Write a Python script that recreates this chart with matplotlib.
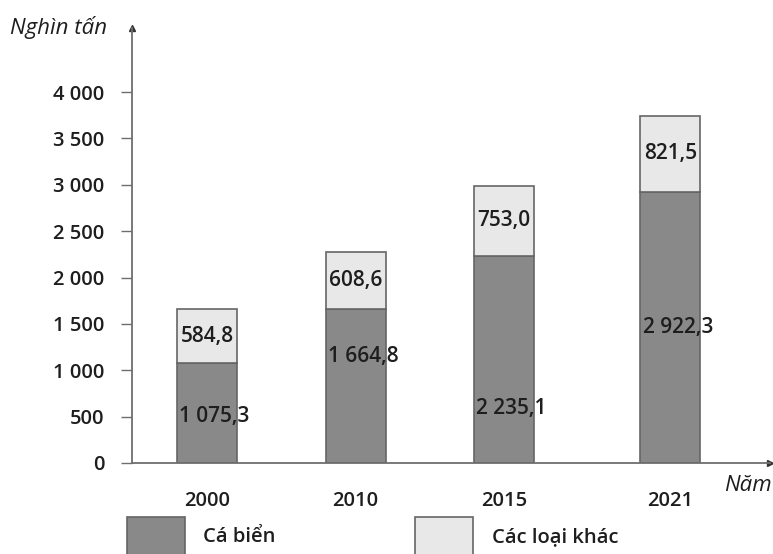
import numpy as np
import matplotlib
matplotlib.use('Agg')
import matplotlib.pyplot as plt
from matplotlib.patches import Rectangle

plt.rcParams['font.family'] = ['Open Sans', 'DejaVu Sans']

# ===================== DATI =====================
years = ['2000', '2010', '2015', '2021']
ca_bien = [1075.3, 1664.8, 2235.1, 2922.3]
loai_khac = [584.8, 608.6, 753.0, 821.5]
ca_bien_labels = ['1 075,3', '1 664,8', '2 235,1', '2 922,3']
loai_khac_labels = ['584,8', '608,6', '753,0', '821,5']
yticks = [0, 500, 1000, 1500, 2000, 2500, 3000, 3500, 4000]
ytick_labels = ['0', '500', '1 000', '1 500', '2 000', '2 500', '3 000', '3 500', '4 000']
# ================================================

# posizione delle categorie (spaziatura come nel grafico originale)
x_pos = np.array([0, 1, 2, 3.12])
# frazione di altezza a cui stanno le etichette nella parte bassa
low_frac = [0.47, 0.69, 0.265, 0.50]

DARK = '#8a898a'
LIGHT = '#e8e8e8'
EDGE = '#666666'
AX = '#6e6e6e'
TXT = '#1e1e1e'
FS = 14.5
FW = 'semibold'

fig = plt.figure(figsize=(7.73, 5.54), dpi=100)
ax = fig.add_axes([0.1708, 0.1643, 0.8252, 0.785])

w = 0.404
ax.bar(x_pos, ca_bien, width=w, color=DARK, edgecolor=EDGE, linewidth=1.2)
ax.bar(x_pos, loai_khac, width=w, bottom=ca_bien, color=LIGHT,
       edgecolor=EDGE, linewidth=1.2)

for i in range(len(years)):
    ax.text(x_pos[i] + 0.05, ca_bien[i] * low_frac[i], ca_bien_labels[i],
            ha='center', va='center', fontsize=15, color=TXT, fontweight=FW)
    ax.text(x_pos[i], ca_bien[i] + loai_khac[i] * 0.5, loai_khac_labels[i],
            ha='center', va='center', fontsize=15, color=TXT, fontweight=FW)

ax.set_xlim(-0.505, 3.79)
ax.set_ylim(0, 4690)
ax.set_yticks(yticks)
ax.set_yticklabels(ytick_labels, fontsize=FS, color=TXT, fontweight=FW)
ax.set_xticks(x_pos)
ax.set_xticklabels(years, fontsize=FS, color=TXT, fontweight=FW)
ax.tick_params(axis='x', length=0, pad=20)
ax.tick_params(axis='y', length=8, width=1, color=AX, pad=12)

for s in ['top', 'right']:
    ax.spines[s].set_visible(False)
for s in ['left', 'bottom']:
    ax.spines[s].set_color(AX)
    ax.spines[s].set_linewidth(1.3)

# frecce degli assi
ax.plot(0, 1, '^', color='#333333', markersize=5, transform=ax.transAxes, clip_on=False)
ax.plot(1, 0, '>', color='#333333', markersize=5, transform=ax.transAxes, clip_on=False)

fig.text(0.013, 0.951, 'Nghìn tấn', fontsize=16, style='italic',
         color=TXT, va='center', ha='left')
fig.text(0.998, 0.124, 'Năm', fontsize=16, style='italic',
         color=TXT, va='center', ha='right')

# legenda
fig.patches.append(Rectangle((127 / 773, -0.02), 58 / 773, 0.087,
                             transform=fig.transFigure, facecolor=DARK,
                             edgecolor=EDGE, linewidth=1.2))
fig.text(203 / 773, 1 - 537 / 554, 'Cá biển', fontsize=FS,
         color=TXT, va='center', ha='left', fontweight=FW)
fig.patches.append(Rectangle((415 / 773, -0.02), 58 / 773, 0.087,
                             transform=fig.transFigure, facecolor=LIGHT,
                             edgecolor=EDGE, linewidth=1.2))
fig.text(492 / 773, 1 - 537 / 554, 'Các loại khác', fontsize=FS,
         color=TXT, va='center', ha='left', fontweight=FW)

fig.savefig('out.png', dpi=100)
